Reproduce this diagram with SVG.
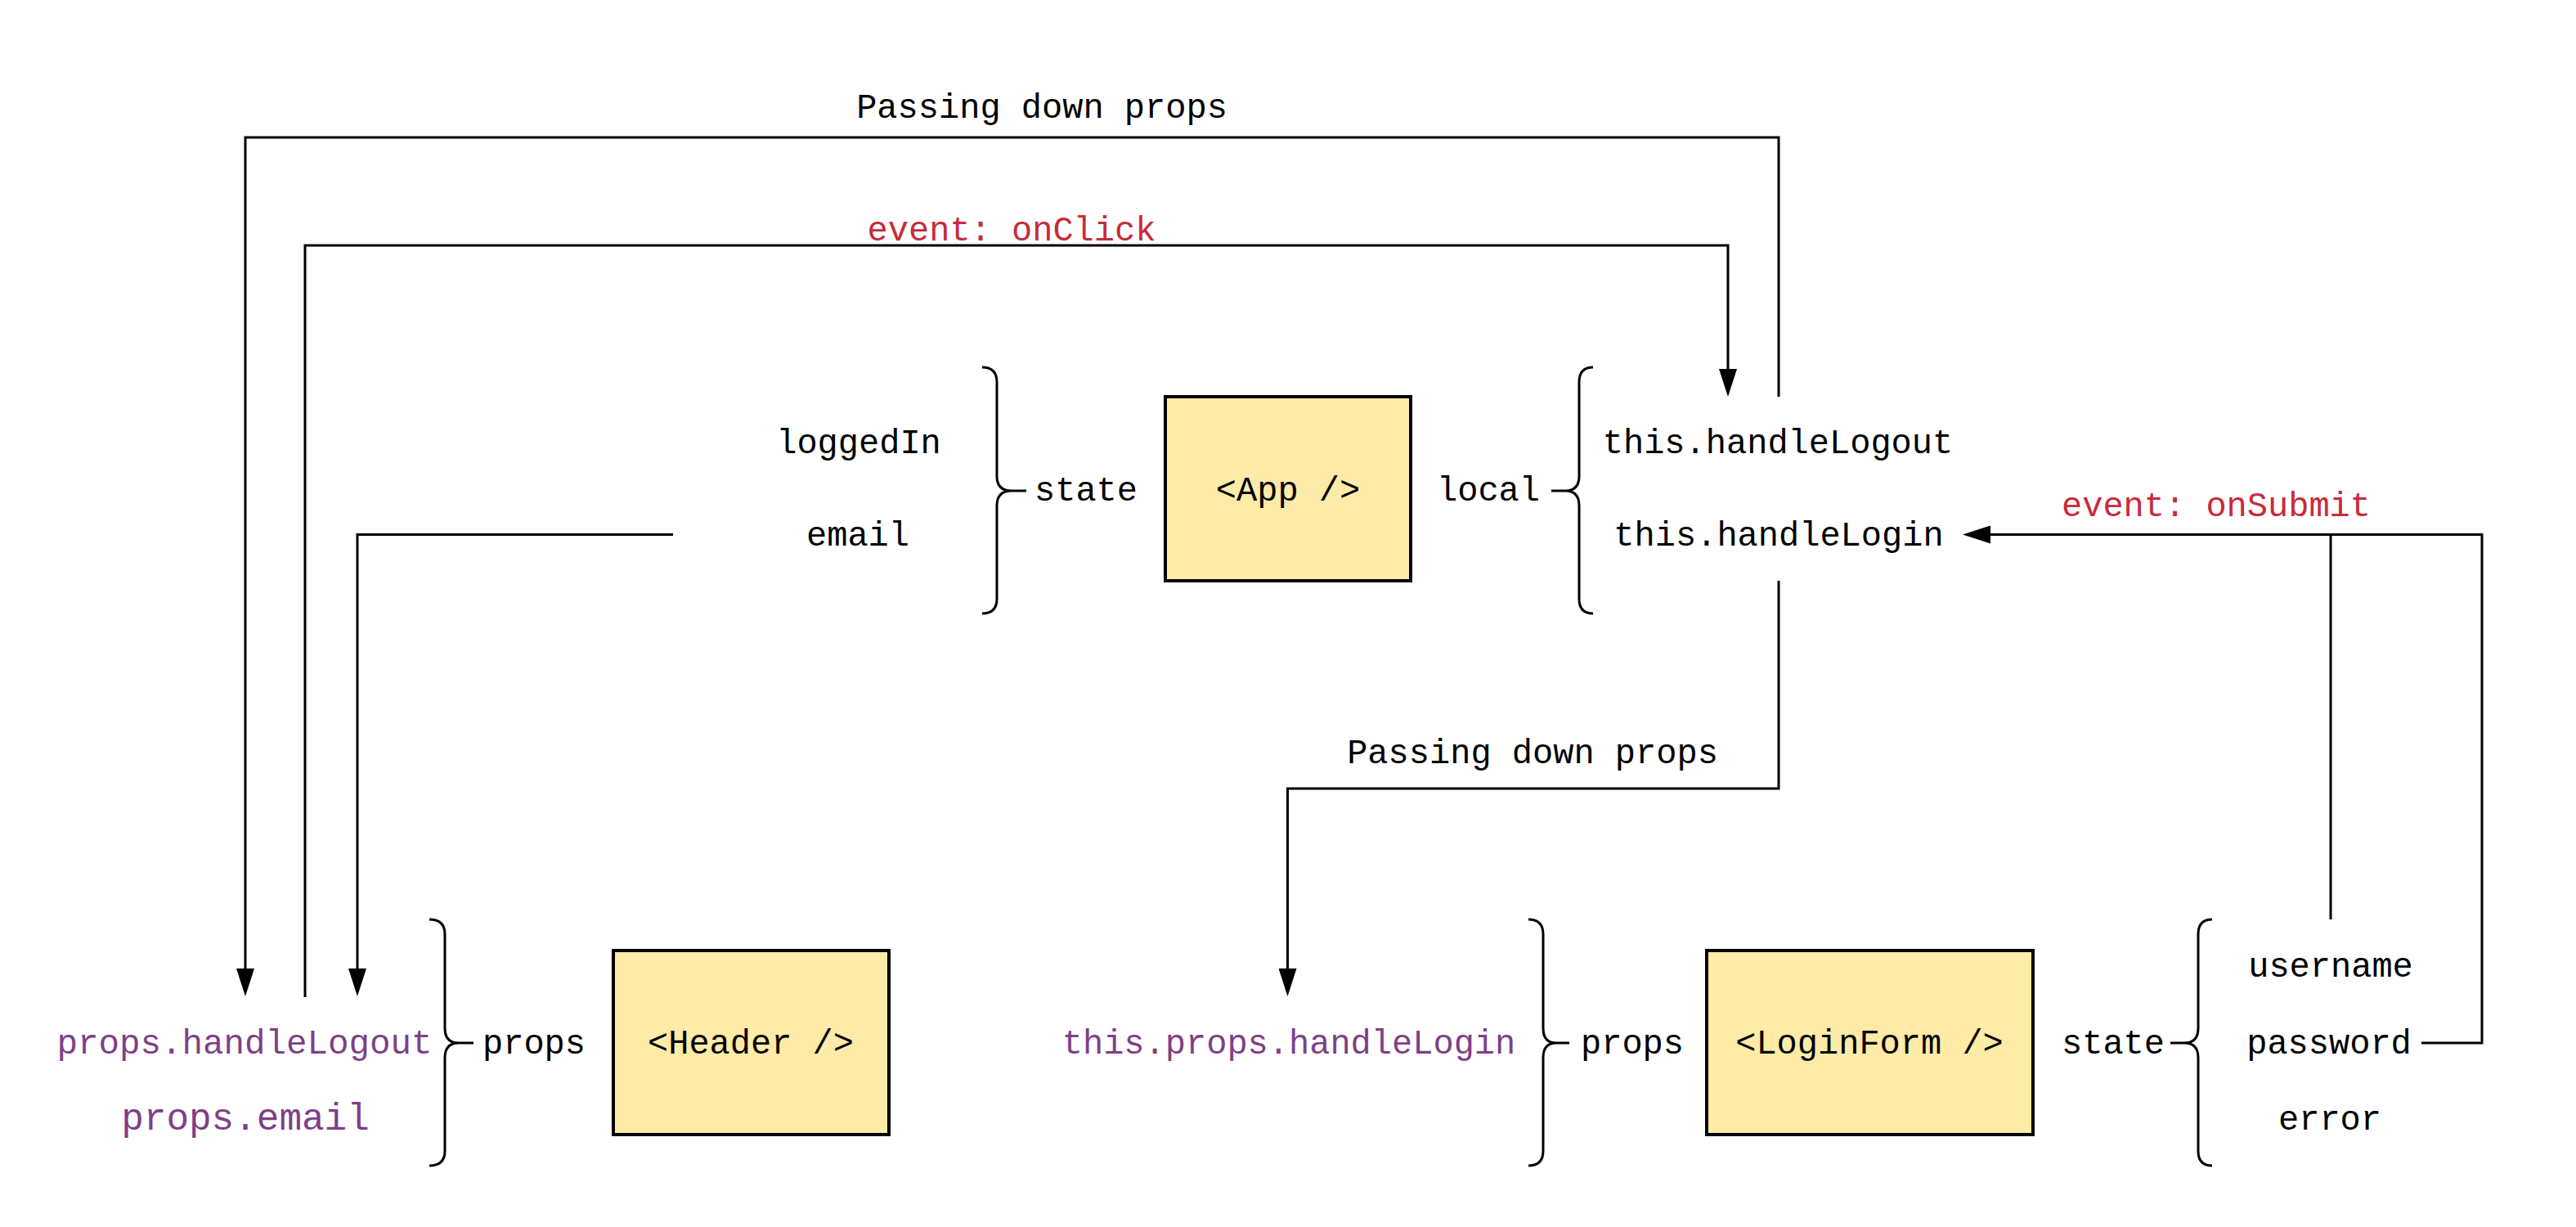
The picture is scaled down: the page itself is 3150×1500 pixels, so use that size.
<svg xmlns="http://www.w3.org/2000/svg" width="3150" height="1500" viewBox="0 0 3150 1500">
<style>
text{font-family:"Liberation Mono","Courier New",monospace;font-size:42px;fill:#000;text-anchor:middle}
.red{fill:#C92A3A}
.pur{fill:#7F3F87}
.box{fill:#FFEBA8;stroke:#000;stroke-width:4}
.brace{fill:none;stroke:#000;stroke-width:3}
.edge{fill:none;stroke:#000;stroke-width:3}
</style>
<defs>
<marker id="arr" viewBox="0 0 34 22" refX="0" refY="11" markerWidth="34" markerHeight="22" markerUnits="userSpaceOnUse" orient="auto">
<path d="M0,0 L34,11 L0,22 Z" fill="#000"/>
</marker>
</defs>
<rect width="3150" height="1500" fill="#fff"/>

<g id="connectors">
<path class="edge" d="M2175,485 L2175,168 L300,168 L300,1184" marker-end="url(#arr)"/>
<path class="edge" d="M373,1219 L373,300 L2113,300 L2113,451" marker-end="url(#arr)"/>
<path class="edge" d="M823,653.5 L437,653.5 L437,1184" marker-end="url(#arr)"/>
<path class="edge" d="M2175,710 L2175,964 L1574.5,964 L1574.5,1184" marker-end="url(#arr)"/>
<path class="edge" d="M2961,1275 L3035,1275 L3035,653.5 L2434,653.5" marker-end="url(#arr)"/>
<path class="edge" d="M2850,1124 L2850,653.5"/>
<text x="1274" y="144">Passing down props</text>
<text class="red" x="1237" y="294">event: onClick</text>
<text x="1874" y="933">Passing down props</text>
<text class="red" x="2710" y="631">event: onSubmit</text>
</g>

<g id="app">
<rect class="box" x="1425" y="485" width="300" height="225"/>
<text x="1575" y="612">&lt;App /&gt;</text>
</g>
<g id="app-state">
<path class="brace" d="M1201,449 Q1219,449 1219,467 L1219,582 Q1219,600 1237,600 L1255,600 M1237,600 Q1219,600 1219,618 L1219,732 Q1219,750 1201,750"/>
<text x="1328" y="612">state</text>
<text x="1050" y="554">loggedIn</text>
<text x="1049" y="667">email</text>
</g>
<g id="app-local">
<path class="brace" d="M1948,449 Q1931,449 1931,467 L1931,582 Q1931,600 1914,600 L1897,600 M1914,600 Q1931,600 1931,618 L1931,732 Q1931,750 1948,750"/>
<text x="1820" y="612">local</text>
<text x="2174" y="554">this.handleLogout</text>
<text x="2175" y="667">this.handleLogin</text>
</g>

<g id="header">
<rect class="box" x="750" y="1162" width="337" height="225"/>
<text x="918" y="1288">&lt;Header /&gt;</text>
</g>
<g id="header-props">
<path class="brace" d="M525,1124 Q544,1124 544,1142 L544,1257 Q544,1275 561,1275 L579,1275 M561,1275 Q544,1275 544,1293 L544,1407 Q544,1425 525,1425"/>
<text x="653" y="1288">props</text>
<text class="pur" x="299" y="1288" style="font-size:42.5px">props.handleLogout</text>
<text class="pur" x="300" y="1381" style="font-size:46px">props.email</text>
</g>

<g id="loginform">
<rect class="box" x="2087" y="1162" width="399" height="225"/>
<text x="2286" y="1288">&lt;LoginForm /&gt;</text>
</g>
<g id="loginform-props">
<path class="brace" d="M1869,1124 Q1887,1124 1887,1142 L1887,1257 Q1887,1275 1903,1275 L1919,1275 M1903,1275 Q1887,1275 1887,1293 L1887,1407 Q1887,1425 1869,1425"/>
<text x="1996" y="1288">props</text>
<text class="pur" x="1576" y="1288">this.props.handleLogin</text>
</g>
<g id="loginform-state">
<path class="brace" d="M2705,1124 Q2688,1124 2688,1142 L2688,1257 Q2688,1275 2671,1275 L2654,1275 M2671,1275 Q2688,1275 2688,1293 L2688,1407 Q2688,1425 2705,1425"/>
<text x="2584" y="1288">state</text>
<text x="2850" y="1194">username</text>
<text x="2848" y="1288">password</text>
<text x="2849" y="1381">error</text>
</g>
</svg>
